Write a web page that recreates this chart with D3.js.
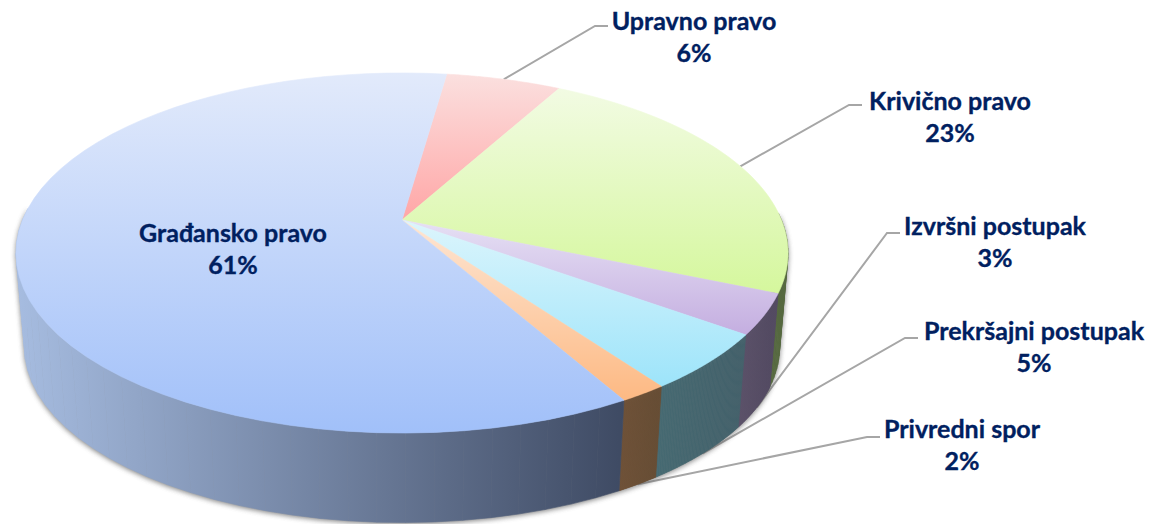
<!DOCTYPE html>
<html>
<head>
<meta charset="utf-8">
<script src="https://cdnjs.cloudflare.com/ajax/libs/d3/7.8.5/d3.min.js"></script>
<style>
html,body{margin:0;padding:0;background:#fff;overflow:hidden}
text{font-family:Lato,"Open Sans",sans-serif;font-weight:700;fill:#002060;stroke:#002060;stroke-width:.35px;text-anchor:middle}
</style>
</head>
<body>
<script>
// Data
const categories = ["Upravno pravo","Krivično pravo","Izvršni postupak","Prekršajni postupak","Privredni spor","Građansko pravo"];
const shares = [5.75,23.45,3.6,5.1,1.7,60.4];
const percentLabels = ["6%","23%","3%","5%","2%","61%"];
const topColors = [["#fbe0df","#ffa6a6"],["#f2fbe3","#d5f79d"],["#e6e0f4","#c4aee0"],["#dcf5fc","#9de4fa"],["#fde6d4","#fdb983"],["#e2eafb","#a1c0f9"]];
const wallColors = [["#a08080","#a08080"],["#6d8050","#55683f"],["#5a5068","#534a62"],["#466a72","#42606a"],["#6e5036","#664c33"],["#a6bce0","#3e4a63"]];

// Layout
const W=1154,H=524;
const apex={x:402,y:220}, A=379.5, B=174, P=0.1833;
const wall={dy:95.5,scaleX:0.978,scaleY:0.972};
const labelLayout=[
  {x:694,y:30,lx:608,ly:26,rim:"top"},
  {x:950,y:110,lx:862,ly:105,rim:"top"},
  {x:995,y:235,lx:900,ly:233,rim:"bottom"},
  {x:1034,y:340,lx:918,ly:338,rim:"bottom"},
  {x:962,y:438,lx:880,ly:437,rim:"bottom"},
  {x:233,y:242}
];
const lineGap=32, fontSize=25;

const svg=d3.select("body").append("svg").attr("width",W).attr("height",H).style("display","block");
const defs=svg.append("defs");
const rad=d=>d*Math.PI/180;

// perspective projection of a circle: angle (clockwise from up) -> screen
function topPt(t){const u=Math.sin(t),v=Math.cos(t),d=1+P*v;return [apex.x+A*u/d,apex.y-B*v/d];}
function botPt(t){const u=Math.sin(t),v=Math.cos(t),d=1+P*v;return [apex.x+wall.scaleX*A*u/d,apex.y+wall.dy-wall.scaleY*B*v/d];}
const samples=(a,b,f)=>d3.range(0,61).map(i=>f(a+(b-a)*i/60));
const line=d3.line();

const arcs=d3.pie().sort(null).startAngle(rad(8)).endAngle(rad(368))(shares);

// Wall strips between top and bottom rim
const strips=arcs.flatMap((a,i)=>d3.range(0,60).map(k=>{
  const s=a.startAngle+(a.endAngle-a.startAngle)*k/60, e=a.startAngle+(a.endAngle-a.startAngle)*(k+1)/60;
  return {i,front:Math.cos((s+e)/2)<0.05,d:line([topPt(s),topPt(e),botPt(e),botPt(s)])+"Z"};
}));
const frontStrips=strips.filter(d=>d.front);

// Gradients
arcs.forEach((a,i)=>{
  const g=defs.append("linearGradient").attr("id","top"+i).attr("x1",0).attr("x2",0).attr("y1",0).attr("y2",1);
  g.append("stop").attr("offset",0).attr("stop-color",topColors[i][0]);
  g.append("stop").attr("offset",1).attr("stop-color",topColors[i][1]);
  const pts=samples(a.startAngle,a.endAngle,botPt);
  const [x0,x1]=d3.extent(pts,p=>p[0]);
  const w=defs.append("linearGradient").attr("id","wall"+i).attr("gradientUnits","userSpaceOnUse")
    .attr("x1",i===5?apex.x-A-5:x0).attr("x2",i===5?topPt(a.startAngle)[0]:x1).attr("y1",0).attr("y2",0);
  w.append("stop").attr("offset",0).attr("stop-color",wallColors[i][0]);
  w.append("stop").attr("offset",1).attr("stop-color",wallColors[i][1]);
});
const blur=defs.append("filter").attr("id","shadow").attr("filterUnits","userSpaceOnUse").attr("x",0).attr("y",0).attr("width",W).attr("height",H);
blur.append("feGaussianBlur").attr("stdDeviation",2.4);

// Leader lines
const leaders=svg.append("g");
arcs.forEach((a,i)=>{
  const L=labelLayout[i]; if(!L.lx) return;
  const mid=(a.startAngle+a.endAngle)/2;
  const s=(L.rim==="top"?topPt:botPt)(mid);
  const knee=[L.lx-13,L.ly];
  leaders.append("path").attr("d",line([s,knee,[L.lx,L.ly]])).attr("fill","none").attr("stroke","#a6a6a6").attr("stroke-width",2);
});

// Shadow (front of the pie only)
svg.append("g").attr("filter","url(#shadow)").attr("opacity",.7).attr("transform","translate(0,1.5)")
  .selectAll("path").data(frontStrips).join("path").attr("d",d=>d.d).attr("fill","#555").attr("stroke","#555").attr("stroke-width",.5);

// Walls
svg.append("g").selectAll("path").data(frontStrips).join("path")
  .attr("d",d=>d.d)
  .attr("fill",d=>`url(#wall${d.i})`)
  .attr("stroke",d=>`url(#wall${d.i})`).attr("stroke-width",.6);

// Top faces
svg.append("g").selectAll("path").data(arcs).join("path")
  .attr("d",a=>line([[apex.x,apex.y]].concat(samples(a.startAngle,a.endAngle,topPt)))+"Z")
  .attr("fill",(a,i)=>`url(#top${i})`)
  .attr("stroke",(a,i)=>`url(#top${i})`).attr("stroke-width",.6);

// Labels
const labels=svg.append("g").selectAll("g").data(categories).join("g")
  .attr("transform",(d,i)=>`translate(${labelLayout[i].x},${labelLayout[i].y})`).style("font-size",fontSize+"px");
labels.append("text").text(d=>d);
labels.append("text").attr("y",lineGap).text((d,i)=>percentLabels[i]);
</script>
</body>
</html>
